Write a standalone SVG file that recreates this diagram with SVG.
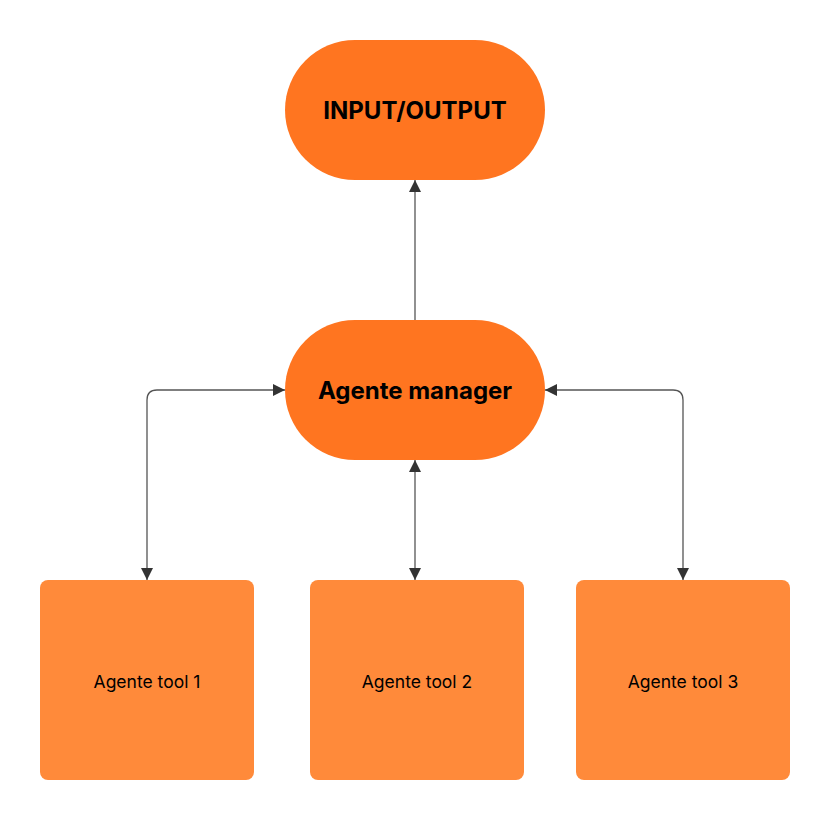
<svg xmlns="http://www.w3.org/2000/svg" width="830" height="820" viewBox="0 0 830 820">
<style>
.pill{fill:#FF7520}
.box{fill:#FF8A3A}
.tb{font-family:Inter,"Liberation Sans",sans-serif;font-weight:bold;font-size:24px;fill:#000;text-anchor:middle;dominant-baseline:central}
.tr{font-family:Inter,"Liberation Sans",sans-serif;font-size:17.5px;fill:#000;text-anchor:middle;dominant-baseline:central}
.c{fill:none;stroke:#555;stroke-width:1.3}
</style>
<defs>
<marker id="ah" viewBox="0 0 12 12" refX="12" refY="6" markerWidth="12" markerHeight="12" markerUnits="userSpaceOnUse" orient="auto-start-reverse">
<path d="M0,0 L12,6 L0,12 Z" fill="#333"/>
</marker>
</defs>
<rect width="830" height="820" fill="#fff"/>
<g id="connectors">
<path class="c" d="M415,320 V180" marker-end="url(#ah)"/>
<path class="c" d="M147,580 V400 Q147,390 157,390 H285" marker-start="url(#ah)" marker-end="url(#ah)"/>
<path class="c" d="M683,580 V400 Q683,390 673,390 H545" marker-start="url(#ah)" marker-end="url(#ah)"/>
<path class="c" d="M415,460 V580" marker-start="url(#ah)" marker-end="url(#ah)"/>
</g>
<g id="io">
<rect class="pill" x="285" y="40" width="260" height="140" rx="70"/>
<text class="tb" x="415" y="110">INPUT/OUTPUT</text>
</g>
<g id="manager">
<rect class="pill" x="285" y="320" width="260" height="140" rx="70"/>
<text class="tb" x="415" y="390">Agente manager</text>
</g>
<g id="tool1">
<rect class="box" x="40" y="580" width="214" height="200" rx="8"/>
<text class="tr" x="147" y="681">Agente tool 1</text>
</g>
<g id="tool2">
<rect class="box" x="310" y="580" width="214" height="200" rx="8"/>
<text class="tr" x="417" y="681">Agente tool 2</text>
</g>
<g id="tool3">
<rect class="box" x="576" y="580" width="214" height="200" rx="8"/>
<text class="tr" x="683" y="681">Agente tool 3</text>
</g>
</svg>
